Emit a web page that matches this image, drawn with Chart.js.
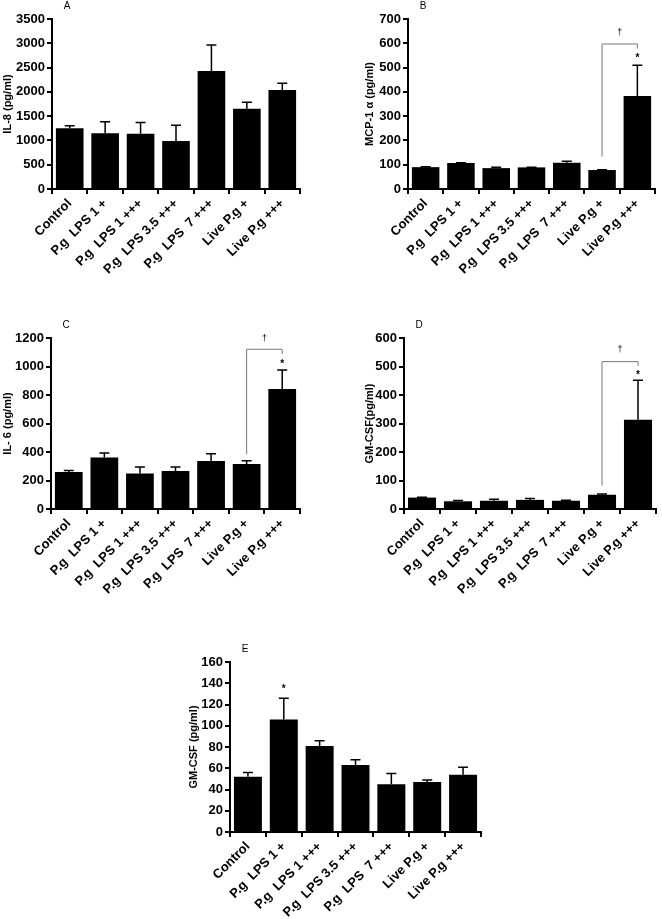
<!DOCTYPE html>
<html>
<head>
<meta charset="utf-8">
<script src="https://cdn.jsdelivr.net/npm/chart.js@4.4.1/dist/chart.umd.min.js"></script>
<style>
  body { margin: 0; background: #fff; width: 662px; height: 919px; position: relative; overflow: hidden; }
  canvas { position: absolute; }
</style>
</head>
<body>
<canvas id="chartA" width="331" height="300" style="left:0;top:0"></canvas>
<canvas id="chartB" width="331" height="300" style="left:331px;top:0"></canvas>
<canvas id="chartC" width="331" height="300" style="left:0;top:300px"></canvas>
<canvas id="chartD" width="331" height="300" style="left:331px;top:300px"></canvas>
<canvas id="chartE" width="340" height="319" style="left:160px;top:600px"></canvas>
<script>
// groups on the x axis (same for every panel)
const groups = ['Control', 'P.g  LPS 1 +', 'P.g  LPS 1 +++', 'P.g  LPS 3.5 +++', 'P.g  LPS  7 +++', 'Live P.g +', 'Live P.g +++'];

// A - IL-8
const il8Mean = [1250, 1150, 1140, 990, 2430, 1650, 2040];
const il8Sem  = [50, 235, 230, 325, 535, 135, 135];

// B - MCP-1 alpha
const mcpMean = [90, 107, 86, 89, 108, 78, 383];
const mcpSem  = [2, 1, 4, 1, 6, 1, 127];
const mcpBracket = [597, 133, 579];   // top, left leg end, right leg end
const mcpDagger = 643;
const mcpStar = 545;

// C - IL-6
const il6Mean = [259, 362, 249, 266, 336, 316, 842];
const il6Sem  = [12, 31, 45, 28, 52, 22, 134];
const il6Bracket = [1121, 386, 1088];
const il6Dagger = 1193;
const il6Star = 1031;

// D - GM-CSF
const gmMean = [40, 27, 29, 32, 29, 50, 313];
const gmSem  = [1, 3, 5, 5, 2, 3, 139];
const gmBracket = [517, 82, 502];
const gmDagger = 558;
const gmStar = 478;

// E - GM-CSF
const gm2Mean = [52, 106, 81, 63, 45, 47, 54];
const gm2Sem  = [4, 20, 5, 5, 10, 2, 7];
const gm2Star = 136;

Chart.defaults.font.family = '"Liberation Sans", Arial, sans-serif';
Chart.defaults.color = '#000';

// error bars, panel letters, brackets and stars
const marks = {
  id: 'marks',
  afterDatasetsDraw(chart) {
    const ctx = chart.ctx;
    const area = chart.chartArea;
    const y = chart.scales.y;
    const ds = chart.data.datasets[0];
    const bars = chart.getDatasetMeta(0).data;
    ctx.save();
    ctx.strokeStyle = '#000';
    ctx.lineWidth = 1.5;
    bars.forEach((bar, i) => {
      const top = y.getPixelForValue(ds.data[i] + ds.sem[i]);
      ctx.beginPath();
      ctx.moveTo(bar.x, bar.y);
      ctx.lineTo(bar.x, top);
      ctx.moveTo(bar.x - 5, top);
      ctx.lineTo(bar.x + 5, top);
      ctx.stroke();
    });

    ctx.fillStyle = '#000';
    ctx.font = '10px "Liberation Sans", Arial';
    ctx.textAlign = 'center';
    ctx.textBaseline = 'middle';
    ctx.fillText(ds.letter, area.left + 15, area.top - 13);

    if (ds.bracket) {
      const xl = bars[5].x, xr = bars[6].x;
      const yt = y.getPixelForValue(ds.bracket[0]);
      ctx.strokeStyle = '#777';
      ctx.lineWidth = 1;
      ctx.beginPath();
      ctx.moveTo(xl, y.getPixelForValue(ds.bracket[1]));
      ctx.lineTo(xl, yt);
      ctx.lineTo(xr, yt);
      ctx.lineTo(xr, y.getPixelForValue(ds.bracket[2]));
      ctx.stroke();
      ctx.font = '9px "Liberation Sans", Arial';
      ctx.fillText('\u2020', (xl + xr) / 2, y.getPixelForValue(ds.dagger));
    }
    if (ds.star) {
      ctx.font = 'bold 10px "Liberation Sans", Arial';
      ctx.fillText('*', bars[ds.star[0]].x, y.getPixelForValue(ds.star[1]) + 2);
    }
    ctx.restore();
  }
};

function makeChart(id, ds, yTitle, yMax, yStep, box) {
  const canvas = document.getElementById(id);
  const axisLine = { drawOnChartArea: false, drawTicks: true, tickLength: 5, color: '#000', lineWidth: 2 };
  return new Chart(canvas.getContext('2d'), {
    type: 'bar',
    data: {
      labels: groups,
      datasets: [Object.assign({
        backgroundColor: '#000',
        borderWidth: 0,
        barPercentage: 0.78,
        categoryPercentage: 1
      }, ds)]
    },
    options: {
      responsive: false,
      animation: false,
      devicePixelRatio: 1,
      layout: { padding: { left: box.padLeft, right: canvas.width - box.right, top: box.top, bottom: 0 } },
      plugins: { legend: { display: false }, tooltip: { enabled: false } },
      scales: {
        x: {
          grid: axisLine,
          border: { color: '#000', width: 2 },
          ticks: {
            autoSkip: false, minRotation: 45, maxRotation: 45, padding: 2,
            font: { size: 13, weight: 'bold' }
          },
          afterFit: s => { s.height = canvas.height - box.bottom; }
        },
        y: {
          min: 0, max: yMax,
          grid: axisLine,
          border: { color: '#000', width: 2 },
          ticks: { stepSize: yStep, padding: 2, font: { size: 13, weight: 'bold' }, callback: v => String(v) },
          title: { display: true, text: yTitle, padding: 1, font: { size: 11, weight: 'bold' } },
          afterFit: s => { s.width = box.left - box.padLeft; }
        }
      }
    },
    plugins: [marks]
  });
}

makeChart('chartA', { data: il8Mean, sem: il8Sem, letter: 'A' },
  'IL-8 (pg/ml)', 3500, 500, { padLeft: 0, left: 52, right: 300, top: 19, bottom: 189 });

makeChart('chartB', { data: mcpMean, sem: mcpSem, letter: 'B', bracket: mcpBracket, dagger: mcpDagger, star: [6, mcpStar] },
  'MCP-1 \u03b1 (pg/ml)', 700, 100, { padLeft: 31, left: 77, right: 324, top: 19, bottom: 189 });

makeChart('chartC', { data: il6Mean, sem: il6Sem, letter: 'C', bracket: il6Bracket, dagger: il6Dagger, star: [6, il6Star] },
  'IL- 6 (pg/ml)', 1200, 200, { padLeft: 0, left: 51, right: 300, top: 38, bottom: 209 });

makeChart('chartD', { data: gmMean, sem: gmSem, letter: 'D', bracket: gmBracket, dagger: gmDagger, star: [6, gmStar] },
  'GM-CSF(pg/ml)', 600, 100, { padLeft: 31, left: 73, right: 325, top: 38, bottom: 209 });

makeChart('chartE', { data: gm2Mean, sem: gm2Sem, letter: 'E', star: [1, gm2Star] },
  'GM-CSF (pg/ml)', 160, 20, { padLeft: 26, left: 70, right: 321, top: 62, bottom: 232 });
</script>
</body>
</html>
